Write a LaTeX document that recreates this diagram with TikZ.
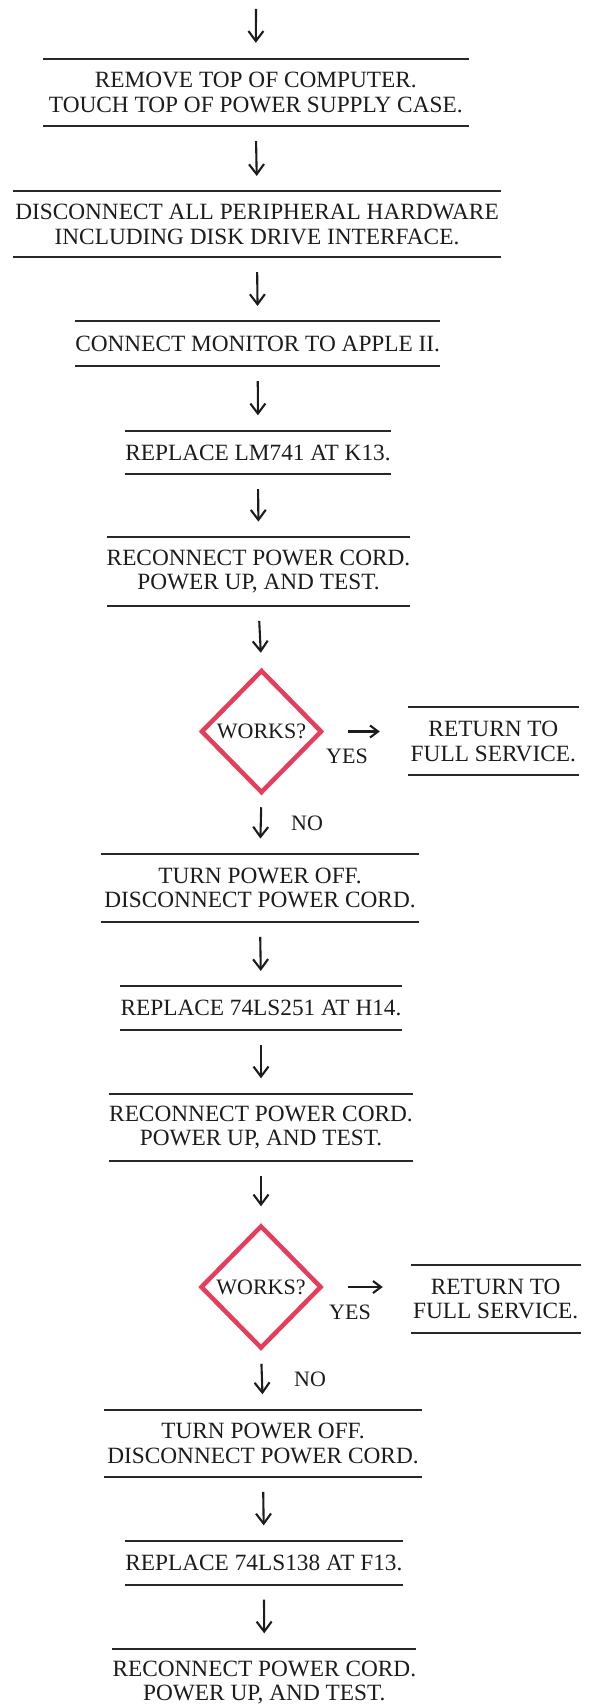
\documentclass[tikz,border=0pt]{standalone}
\usepackage{fontspec}
\setmainfont{Liberation Serif}
\usetikzlibrary{arrows.meta,shapes.geometric}
\definecolor{ink}{RGB}{28,28,28}
\definecolor{rulec}{RGB}{40,40,40}
\definecolor{dia}{RGB}{228,62,92}
\newcommand\boxfont{\fontsize{23.3}{24.5}\selectfont}
\newcommand\lblfont{\fontsize{22}{24}\selectfont}
\begin{document}
\begin{tikzpicture}[x=1pt,y=-1pt,
  rule/.style={draw=rulec,line width=2pt},
  rulebox/.style={inner sep=0pt,align=center,font=\boxfont,text=ink,
    append after command={
      (\tikzlastnode.north west) edge[rule] (\tikzlastnode.north east)
      (\tikzlastnode.south west) edge[rule] (\tikzlastnode.south east)}},
  decision/.style={diamond,draw=dia,line width=4.5pt,inner sep=0pt,
    minimum width=121pt,minimum height=123pt,font=\lblfont,text=ink},
  lbl/.style={inner sep=0pt,font=\lblfont,text=ink},
  arr/.style={draw=ink,line width=2.1pt,
    -{Straight Barb[length=10pt,width=15pt,line width=2.1pt]},
    shorten <=15pt,shorten >=15.5pt},
  yarr/.style={draw=ink,line width=2.1pt,
    -{Straight Barb[length=8pt,width=12pt,line width=2.1pt]},
    shorten <=24pt,shorten >=28pt}
]
\path[use as bounding box,clip] (0,0) rectangle (591,1707);

\coordinate (top) at (256,9);
\node[rulebox,minimum width=425.5pt,minimum height=67pt] (b1) at (255.8,92.5)
  {REMOVE TOP OF COMPUTER.\\TOUCH TOP OF POWER SUPPLY CASE.};
\node[rulebox,minimum width=488pt,minimum height=65.3pt] (b2) at (257,224.3)
  {DISCONNECT ALL PERIPHERAL HARDWARE\\INCLUDING DISK DRIVE INTERFACE.};
\node[rulebox,minimum width=360.7pt,minimum height=44.3pt] (b3) at (257.7,343.8)
  {CONNECT MONITOR TO APPLE II.};
\node[rulebox,minimum width=254pt,minimum height=43pt] (b4) at (258,452.5)
  {REPLACE LM741 AT K13.};
\node[rulebox,minimum width=297pt,minimum height=68.4pt] (b5) at (258.5,571.5)
  {RECONNECT POWER CORD.\\POWER UP, AND TEST.};
\node[decision] (d1) at (261.5,731.5) {WORKS?};
\node[rulebox,minimum width=170.6pt,minimum height=67.3pt] (r1) at (493.3,741.3)
  {RETURN TO\\FULL SERVICE.};
\node[lbl] (yes1) at (347,756) {YES};
\node[lbl] (no1) at (307,823.3) {NO};
\node[rulebox,minimum width=318pt,minimum height=67.4pt] (b6) at (260,888)
  {TURN POWER OFF.\\DISCONNECT POWER CORD.};
\node[rulebox,minimum width=274.8pt,minimum height=43.3pt] (b7) at (261,1008.3)
  {REPLACE 74LS251 AT H14.};
\node[rulebox,minimum width=297.4pt,minimum height=67pt] (b8) at (261,1127.5)
  {RECONNECT POWER CORD.\\POWER UP, AND TEST.};
\node[decision] (d2) at (261,1287) {WORKS?};
\node[rulebox,minimum width=169.5pt,minimum height=67.7pt] (r2) at (495.7,1298.8)
  {RETURN TO\\FULL SERVICE.};
\node[lbl] (yes2) at (350,1312.3) {YES};
\node[lbl] (no2) at (310,1379.3) {NO};
\node[rulebox,minimum width=318pt,minimum height=66.7pt] (b9) at (263,1443.3)
  {TURN POWER OFF.\\DISCONNECT POWER CORD.};
\node[rulebox,minimum width=276.7pt,minimum height=43.3pt] (b10) at (263.9,1562.7)
  {REPLACE 74LS138 AT F13.};
\node[rulebox,minimum width=298.5pt,minimum height=67pt] (b11) at (264.3,1682.5)
  {RECONNECT POWER CORD.\\POWER UP, AND TEST.};

\draw[arr,shorten <=0pt,shorten >=16pt] (top) -- (b1.north);
\draw[arr] (b1.south) -- (b2.north);
\draw[arr] (b2.south) -- (b3.north);
\draw[arr] (b3.south) -- (b4.north);
\draw[arr] (b4.south) -- (b5.north);
\draw[arr,shorten >=15pt] (b5.south) -- (d1.north);
\draw[yarr] (d1.east) -- (d1.east -| r1.west);
\draw[arr,shorten <=12pt] (d1.south) -- (b6.north);
\draw[arr] (b6.south) -- (b7.north);
\draw[arr] (b7.south) -- (b8.north);
\draw[arr,shorten >=17pt] (b8.south) -- (d2.north);
\draw[yarr] (d2.east) -- (d2.east -| r2.west);
\draw[arr,shorten <=13pt] (d2.south) -- (b9.north);
\draw[arr] (b9.south) -- (b10.north);
\draw[arr] (b10.south) -- (b11.north);
\end{tikzpicture}
\end{document}
